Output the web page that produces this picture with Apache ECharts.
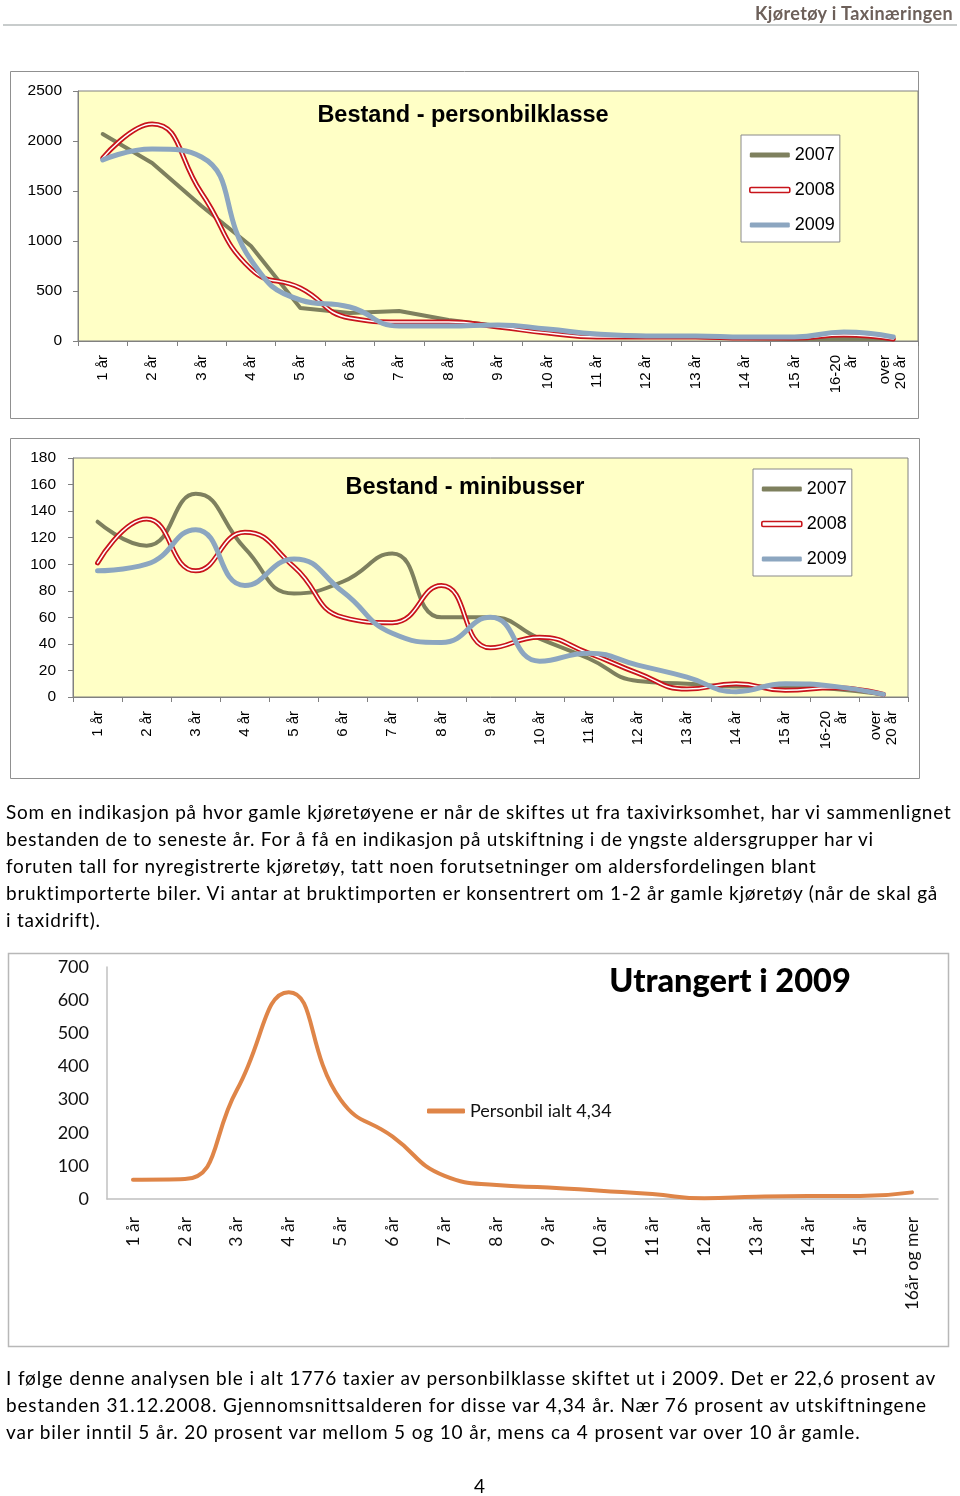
<!DOCTYPE html>
<html>
<head>
<meta charset="utf-8">
<script src="https://cdn.jsdelivr.net/npm/echarts@6/dist/echarts.min.js"></script>
<style>
  html, body { margin: 0; padding: 0; background: #fff; }
  #page { position: relative; width: 960px; height: 1496px; }
  #chart { position: absolute; left: 0; top: 0; width: 960px; height: 1496px; }
  .txt { position: absolute; font-family: Lato, "Open Sans", sans-serif; color: #000; white-space: nowrap; }
  .para { left: 6px; font-size: 19px; line-height: 27px; letter-spacing: 0.76px; }
  #hdr { right: 7px; top: 2px; font-size: 18px; font-weight: bold; color: #6d605a; letter-spacing: 0.4px; }
  #hline { position: absolute; left: 3px; top: 24px; width: 954px; height: 2px; background: #c8cccc; }
</style>
</head>
<body>
<div id="page">
  <div id="chart"></div>
  <div id="hdr" class="txt">Kjøretøy i Taxinæringen</div>
  <div id="hline"></div>
  <div class="txt para" style="top:798px;">Som en indikasjon på hvor gamle kjøretøyene er når de skiftes ut fra taxivirksomhet, har vi sammenlignet<br>bestanden de to seneste år. For å få en indikasjon på utskiftning i de yngste aldersgrupper har vi<br>foruten tall for nyregistrerte kjøretøy, tatt noen forutsetninger om aldersfordelingen blant<br>bruktimporterte biler. Vi antar at bruktimporten er konsentrert om 1-2 år gamle kjøretøy (når de skal gå<br>i taxidrift).</div>
  <div class="txt para" style="top:1364px; letter-spacing:0.85px;">I følge denne analysen ble i alt 1776 taxier av personbilklasse skiftet ut i 2009. Det er 22,6 prosent av<br>bestanden 31.12.2008. Gjennomsnittsalderen for disse var 4,34 år. Nær 76 prosent av utskiftningene<br>var biler inntil 5 år. 20 prosent var mellom 5 og 10 år, mens ca 4 prosent var over 10 år gamle.</div>
  <div class="txt" style="left:474px; top:1474px; font-size:19px;">4</div>
</div>
<script>
// ---- data ----
var ageCats = ['1 år','2 år','3 år','4 år','5 år','6 år','7 år','8 år','9 år','10 år','11 år','12 år','13 år','14 år','15 år','16-20\når','over\n20 år'];
var scrapCats = ['1 år','2 år','3 år','4 år','5 år','6 år','7 år','8 år','9 år','10 år','11 år','12 år','13 år','14 år','15 år','16år og mer'];
var years = ['2007','2008','2009'];

var pers2007 = [2070, 1780, 1350, 950, 330, 280, 300, 210, 150, 100, 60, 50, 40, 30, 20, 20, 20];
var pers2008 = [1830, 2170, 1480, 720, 530, 230, 190, 190, 140, 80, 40, 40, 40, 30, 30, 60, 20];
var pers2009 = [1810, 1920, 1840, 810, 410, 340, 150, 150, 160, 120, 70, 50, 50, 40, 40, 90, 40];

var mini2007 = [132, 114, 153, 112, 78, 87, 108, 60, 60, 44, 29, 12, 10, 8, 8, 6, 2];
var mini2008 = [101, 134, 95, 124, 98, 60, 56, 84, 37, 45, 33, 18, 6, 10, 5, 7, 2];
var mini2009 = [95, 100, 126, 84, 104, 79, 48, 41, 60, 27, 33, 24, 15, 4, 10, 8, 2];

var scrap2009 = [58, 60, 329, 624, 299, 188, 70, 42, 35, 25, 15, 2, 7, 9, 9, 20];
var scrapName = 'Personbil ialt 4,34';

var yTicks1 = {min: 0, max: 2500, interval: 500};
var yTicks2 = {min: 0, max: 180, interval: 20};
var yTicks3 = {min: 0, max: 700, interval: 100};

// ---- style ----
var C_GREEN = '#7e805e', C_RED = '#c8141b', C_BLUE = '#8ca6c0', C_ORANGE = '#df8548', C_YEL = '#ffffc6';
var ARIAL = 'Arial, "Liberation Sans", sans-serif';
var GOTH = 'Lato, "Open Sans", sans-serif';
function plain(v) { return String(v); }

function excelX(gi, cats) {
  return {
    type: 'category', gridIndex: gi, data: cats, boundaryGap: true,
    axisLine: {show: true, lineStyle: {color: '#808080', width: 1}},
    axisTick: {show: true, length: 5, lineStyle: {color: '#808080'}},
    axisLabel: {rotate: 90, margin: 14, fontFamily: ARIAL, fontSize: 15, color: '#000', interval: 0, lineHeight: 16}
  };
}
function excelY(gi, t, m) {
  return {
    type: 'value', gridIndex: gi, min: t.min, max: t.max, interval: t.interval,
    splitLine: {show: false},
    axisLine: {show: true, lineStyle: {color: '#808080', width: 1}},
    axisTick: {show: true, length: 5, lineStyle: {color: '#808080'}},
    axisLabel: {margin: m, fontFamily: ARIAL, fontSize: 15.5, color: '#000', formatter: plain}
  };
}
function lineSeries(name, data, gi, color, width, smooth, z) {
  return {
    type: 'line', name: name, data: data, xAxisIndex: gi, yAxisIndex: gi,
    smooth: smooth, showSymbol: false, symbol: 'none', z: z || 2,
    lineStyle: {color: color, width: width, cap: 'round', join: 'round'},
    itemStyle: {color: color}, emphasis: {disabled: true}, silent: true
  };
}
function excelLegend(left, top) {
  return {
    orient: 'vertical', left: left, top: top,
    backgroundColor: '#fff', borderColor: '#8a8a8a', borderWidth: 1,
    padding: [11, 5, 8, 8], itemGap: 17, itemWidth: 40, itemHeight: 5,
    textStyle: {fontFamily: ARIAL, fontSize: 18, color: '#000'},
    selectedMode: false,
    data: [
      {name: years[0], icon: 'roundRect', itemStyle: {color: C_GREEN}},
      {name: years[1], icon: 'roundRect', itemStyle: {color: '#fff', borderColor: C_RED, borderWidth: 1.6}},
      {name: years[2], icon: 'roundRect', itemStyle: {color: C_BLUE}}
    ]
  };
}

var chart = echarts.init(document.getElementById('chart'), null, {renderer: 'canvas', width: 960, height: 1496});

var option = {
  animation: false,
  backgroundColor: '#fff',
  grid: [
    {left: 78, top: 91, width: 840, height: 250, show: true, backgroundColor: C_YEL, borderColor: '#808080', borderWidth: 1, outerBoundsMode: 'none', containLabel: false},
    {left: 73, top: 458, width: 835, height: 239, show: true, backgroundColor: C_YEL, borderColor: '#808080', borderWidth: 1, outerBoundsMode: 'none', containLabel: false},
    {left: 107, top: 967, width: 831, height: 232, show: false, outerBoundsMode: 'none', containLabel: false}
  ],
  xAxis: [
    excelX(0, ageCats),
    excelX(1, ageCats),
    {
      type: 'category', gridIndex: 2, data: scrapCats, boundaryGap: true,
      axisLine: {show: true, lineStyle: {color: '#c0c0c0', width: 1.5}},
      axisTick: {show: false},
      axisLabel: {rotate: 90, margin: 18, fontFamily: GOTH, fontSize: 17.5, color: '#111', interval: 0}
    }
  ],
  yAxis: [
    excelY(0, yTicks1, 16),
    excelY(1, yTicks2, 17),
    {
      type: 'value', gridIndex: 2, min: yTicks3.min, max: yTicks3.max, interval: yTicks3.interval,
      splitLine: {show: false},
      axisLine: {show: true, lineStyle: {color: '#c0c0c0', width: 1.5}},
      axisTick: {show: false},
      axisLabel: {margin: 18, fontFamily: GOTH, fontSize: 18, color: '#111', formatter: plain}
    }
  ],
  legend: [
    excelLegend(741, 135),
    excelLegend(753, 469),
    {
      left: 427, top: 1102, itemWidth: 38, itemHeight: 5, itemGap: 10,
      padding: 0, selectedMode: false,
      textStyle: {fontFamily: GOTH, fontSize: 18, color: '#111'},
      data: [{name: scrapName, icon: 'roundRect', itemStyle: {color: C_ORANGE}}]
    }
  ],
  series: [
    lineSeries(years[0], pers2007, 0, C_GREEN, 4, false, 2),
    lineSeries(years[1], pers2008, 0, C_RED, 5, 0.5, 3),
    lineSeries('2008 indre', pers2008, 0, '#ffffff', 1.5, 0.5, 4),
    lineSeries(years[2], pers2009, 0, C_BLUE, 5, 0.5, 5),

    lineSeries(years[0], mini2007, 1, C_GREEN, 4, 0.5, 2),
    lineSeries(years[1], mini2008, 1, C_RED, 5, 0.5, 3),
    lineSeries('2008 indre', mini2008, 1, '#ffffff', 1.5, 0.5, 4),
    lineSeries(years[2], mini2009, 1, C_BLUE, 5, 0.5, 5),

    lineSeries(scrapName, scrap2009, 2, C_ORANGE, 4, 0.5, 2)
  ],
  graphic: [
    {type: 'rect', shape: {x: 10.5, y: 71.5, width: 908, height: 347}, style: {fill: null, stroke: '#909090', lineWidth: 1}, z: -1, silent: true},
    {type: 'rect', shape: {x: 10.5, y: 438.5, width: 909, height: 340}, style: {fill: null, stroke: '#909090', lineWidth: 1}, z: -1, silent: true},
    {type: 'rect', shape: {x: 8.5, y: 953.5, width: 940, height: 393}, style: {fill: null, stroke: '#b8b8b8', lineWidth: 1.5}, z: -1, silent: true},
    {type: 'text', x: 463, y: 116, z: 10, silent: true, style: {text: 'Bestand - personbilklasse', fontFamily: ARIAL, fontWeight: 'bold', fontSize: 23.5, fill: '#000', textAlign: 'center', textVerticalAlign: 'middle'}},
    {type: 'text', x: 465, y: 488, z: 10, silent: true, style: {text: 'Bestand - minibusser', fontFamily: ARIAL, fontWeight: 'bold', fontSize: 23.5, fill: '#000', textAlign: 'center', textVerticalAlign: 'middle'}},
    {type: 'text', x: 730, y: 982, z: 10, silent: true, style: {text: 'Utrangert i 2009', fontFamily: GOTH, fontWeight: 900, fontSize: 32.5, fill: '#000', textAlign: 'center', textVerticalAlign: 'middle'}}
  ]
};
chart.setOption(option);
</script>
</body>
</html>
